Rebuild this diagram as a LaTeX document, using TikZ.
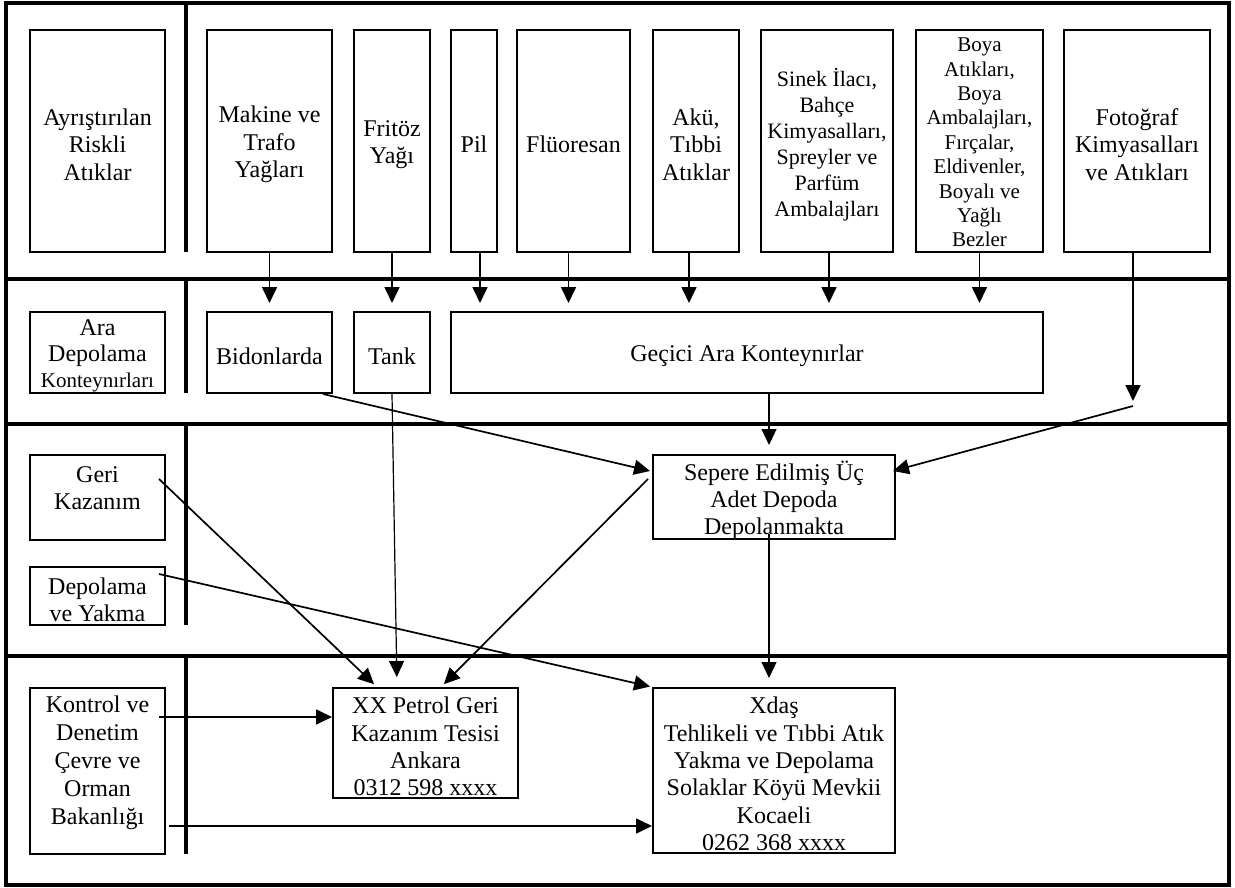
\documentclass[tikz,border=0pt]{standalone}
\usepackage{fontspec}
\setmainfont{Liberation Serif}
\usetikzlibrary{arrows.meta,calc}
\tikzset{
  frame/.style={line width=4.8pt},
  box/.style={draw, line width=2pt, inner sep=0pt},
  txt/.style={inner sep=0pt, align=center, font=\fontsize{24}{27.3}\selectfont},
  arr/.style={line width=1.7pt, -{Triangle[length=16pt,width=15pt]}},
  arrthin/.style={line width=1.2pt, -{Triangle[length=16pt,width=15pt]}},
}
% \bxnode[text style]{name}{x}{y}{w}{h}{text}
\newcommand\bxnode[7][]{%
  \node[box, minimum width=#5, minimum height=#6] (#2) at (#3,#4) {};
  \node[txt,#1] (#2-t) at ([yshift=-3.5pt]#2.center) {#7};
}
\begin{document}
\begin{tikzpicture}[x=1pt,y=-1pt]
\useasboundingbox (0,0) rectangle (1235,888);
% frame
\draw[frame] (6,3) rectangle (1229,885);
\draw[frame] (6,279) -- (1229,279);
\draw[frame] (6,424) -- (1229,424);
\draw[frame] (6,656) -- (1229,656);
\draw[frame] (186,3) -- (186,252);
\draw[frame] (186,279) -- (186,393);
\draw[frame] (186,424) -- (186,625);
\draw[frame] (186,656) -- (186,854);
% row 1
\bxnode{ayr}{97.5}{141}{135}{222}{Ayrıştırılan\\Riskli\\Atıklar}
\bxnode{mak}{269.5}{141}{125}{222}{Makine ve\\Trafo\\Yağları}
\bxnode{fri}{392}{141}{76}{222}{Fritöz\\Yağı}
\bxnode{pil}{474}{141}{46}{222}{Pil}
\bxnode{flu}{573.5}{141}{113}{222}{Flüoresan}
\bxnode{aku}{696}{141}{86}{222}{Akü,\\Tıbbi\\Atıklar}
\bxnode[font=\fontsize{22}{26}\selectfont]{sin}{827}{141}{132}{222}{Sinek İlacı,\\Bahçe\\Kimyasalları,\\Spreyler ve\\Parfüm\\Ambalajları}
\bxnode[font=\fontsize{21}{24.4}\selectfont, yshift=2pt]{boy}{979.5}{141}{127}{222}{Boya\\Atıkları,\\Boya\\Ambalajları,\\Fırçalar,\\Eldivenler,\\Boyalı ve\\Yağlı\\Bezler}
\bxnode{fot}{1137}{141}{146}{222}{Fotoğraf\\Kimyasalları\\ve Atıkları}
% row 2
\bxnode[font=\fontsize{24}{26}\selectfont]{ara}{97.5}{352.5}{135}{81}{Ara\\Depolama\\{\fontsize{21}{24}\selectfont Konteynırları}}
\bxnode{bidon}{269.5}{352.5}{125}{81}{Bidonlarda}
\bxnode{tank}{392}{352.5}{76}{81}{Tank}
\bxnode{gecici}{747}{352.5}{592}{81}{Geçici Ara Konteynırlar}
% row 3
\bxnode[yshift=13pt]{geri}{97.5}{497.5}{135}{85}{Geri\\Kazanım}
\bxnode{dep}{97.5}{596}{135}{58}{Depolama\\ve Yakma}
\bxnode{sep}{774}{497}{242}{84}{Sepere Edilmiş Üç\\Adet Depoda\\Depolanmakta}
% row 4
\bxnode[yshift=12pt, font=\fontsize{24}{28}\selectfont]{kon}{97.5}{771}{135}{166}{Kontrol ve\\Denetim\\Çevre ve\\Orman\\Bakanlığı}
\bxnode{xx}{425.5}{743}{185}{110}{XX Petrol Geri\\Kazanım Tesisi\\Ankara\\0312 598 xxxx}
\bxnode{xd}{774}{770.5}{242}{165}{Xdaş\\Tehlikeli ve Tıbbi Atık\\Yakma ve Depolama\\Solaklar Köyü Mevkii\\Kocaeli\\0262 368 xxxx}
% coordinates
\coordinate (p1) at ($(pil.south)+(6,0)$);
\coordinate (f1) at ($(flu.south)+(-5,0)$);
\coordinate (a1) at ($(aku.south)+(-7,0)$);
\coordinate (s1) at ($(sin.south)+(2,0)$);
\coordinate (b1) at (boy.south);
\coordinate (ftop) at ($(fot.south)+(-4,0)$);
\coordinate (fk) at ($(ftop)+(0,153)$);
\coordinate (sg) at ($(sep.north)+(-5,0)$);
\coordinate (sd) at ($(sep.south)+(-5,-6)$);
\coordinate (g1) at ($(geri.north east)+(-7,25)$);
\coordinate (d1) at ($(dep.north east)+(-7,8)$);
\coordinate (k1) at ($(kon.north east)+(-7,30)$);
\coordinate (k2) at ($(kon.north east)+(3,139)$);
% row1 -> row2
\draw[arr, shorten >=8pt] (mak.south) -- (bidon.north);
\draw[arr, shorten >=8pt] (fri.south) -- (tank.north);
\draw[arr, shorten >=8pt] (p1) -- (p1 |- gecici.north);
\draw[arr, shorten >=8pt] (f1) -- (f1 |- gecici.north);
\draw[arr, shorten >=8pt] (a1) -- (a1 |- gecici.north);
\draw[arr, shorten >=8pt] (s1) -- (s1 |- gecici.north);
\draw[arr, shorten >=8pt] (b1) -- (b1 |- gecici.north);
\draw[arr, shorten >=5pt] (ftop) -- (fk);
% row2 -> row3
\draw[arr] ($(bidon.south east)+(-10,0)$) -- ($(sep.north west)+(-2,17)$);
\draw[arr] (fk) -- ($(sep.north east)+(-3,17)$);
\draw[arrthin, shorten >=9pt] (sg |- gecici.south) -- (sg);
% to row 4
\draw[arrthin, shorten >=10pt] (tank.south) -- ($(xx.north west)+(65,0)$);
\draw[arr, shorten >=4pt] ($(sep.north west)+(-4,25)$) -- ($(xx.north east)+(-78,0)$);
\draw[arr, shorten >=4pt] (g1) -- ($(xx.north west)+(45,0)$);
\draw[arr, shorten >=2pt] (d1) -- (xd.north west);
\draw[arrthin, shorten >=9pt] (sd) -- ($(xd.north)+(-5,0)$);
\draw[arr] (k1) -- (k1 -| xx.west);
\draw[arr] (k2) -- (k2 -| xd.west);
\end{tikzpicture}
\end{document}
